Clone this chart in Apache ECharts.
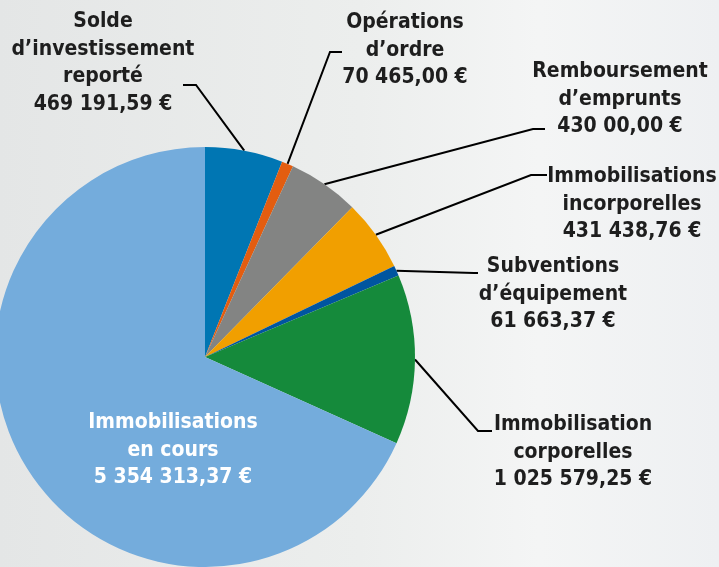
<!DOCTYPE html>
<html><head><meta charset="utf-8">
<script src="https://cdn.jsdelivr.net/npm/echarts@6/dist/echarts.min.js"></script>
<style>html,body{margin:0;padding:0;}#c{width:719px;height:567px;}</style>
</head><body><div id="c"></div>
<script>
// Data
const categories = [
  "Solde\nd\u2019investissement\nreporté",
  "Opérations\nd\u2019ordre",
  "Remboursement\nd\u2019emprunts",
  "Immobilisations\nincorporelles",
  "Subventions\nd\u2019équipement",
  "Immobilisation\ncorporelles",
  "Immobilisations\nen cours"
];
const values = [469191.59, 70465.00, 430000.00, 431438.76, 61663.37, 1025579.25, 5354313.37];
const valueLabels = ["469 191,59 €", "70 465,00 €", "430 00,00 €", "431 438,76 €", "61 663,37 €", "1 025 579,25 €", "5 354 313,37 €"];

// Styling / layout
const colors = ["#0076b3", "#e35d10", "#838483", "#f19f00", "#0055a0", "#158a3b", "#74acdc"];
const labelPos = [ // center x, top y of text block
  [103, 8], [405, 9], [620, 58], [632, 163], [553, 253], [573, 411], [173, 409]
];
const linePts = [ // elbow, end
  [[196, 85], [183, 85]],
  [[330, 52], [342, 52]],
  [[533, 129], [545, 129]],
  [[531, 175], [547, 175]],
  [[474, 273], [478, 273]],
  [[478, 431], [492, 431]],
  null
];

const chart = echarts.init(document.getElementById('c'), null, {renderer: 'canvas'});
const data = values.map((v, i) => ({
  name: categories[i],
  value: v,
  itemStyle: {color: colors[i]},
  label: i === 6 ? {color: '#ffffff', position: 'inside'} : {},
  labelLine: {show: i !== 6}
}));

chart.setOption({
  animation: false,
  backgroundColor: {
    type: 'linear', x: 0, y: 0, x2: 1, y2: 0,
    colorStops: [
      {offset: 0, color: '#e4e6e6'},
      {offset: 0.5, color: '#eceeed'},
      {offset: 0.75, color: '#f4f5f5'},
      {offset: 1, color: '#eef0f2'}
    ]
  },
  series: [{
    type: 'pie',
    center: [205, 357],
    radius: 210,
    startAngle: 90,
    clockwise: true,
    avoidLabelOverlap: false,
    emphasis: {disabled: true},
    data: data,
    label: {
      show: true,
      position: 'outside',
      formatter: p => p.name + '\n' + valueLabels[p.dataIndex],
      color: '#1e1e1e',
      fontFamily: 'DejaVu Sans Condensed',
      fontWeight: 'bold',
      fontSize: 21,
      lineHeight: 27.5,
      align: 'center'
    },
    labelLine: {
      show: true,
      length: 20,
      length2: 10,
      smooth: false,
      lineStyle: {color: '#000000', width: 2}
    },
    labelLayout: function (params) {
      const i = params.dataIndex;
      const res = {x: labelPos[i][0], y: labelPos[i][1], align: 'center', verticalAlign: 'top'};
      if (linePts[i] && params.labelLinePoints) {
        const start = params.labelLinePoints[0];
        res.labelLinePoints = [start, linePts[i][0], linePts[i][1]];
      }
      return res;
    }
  }]
});
</script>
</body></html>
